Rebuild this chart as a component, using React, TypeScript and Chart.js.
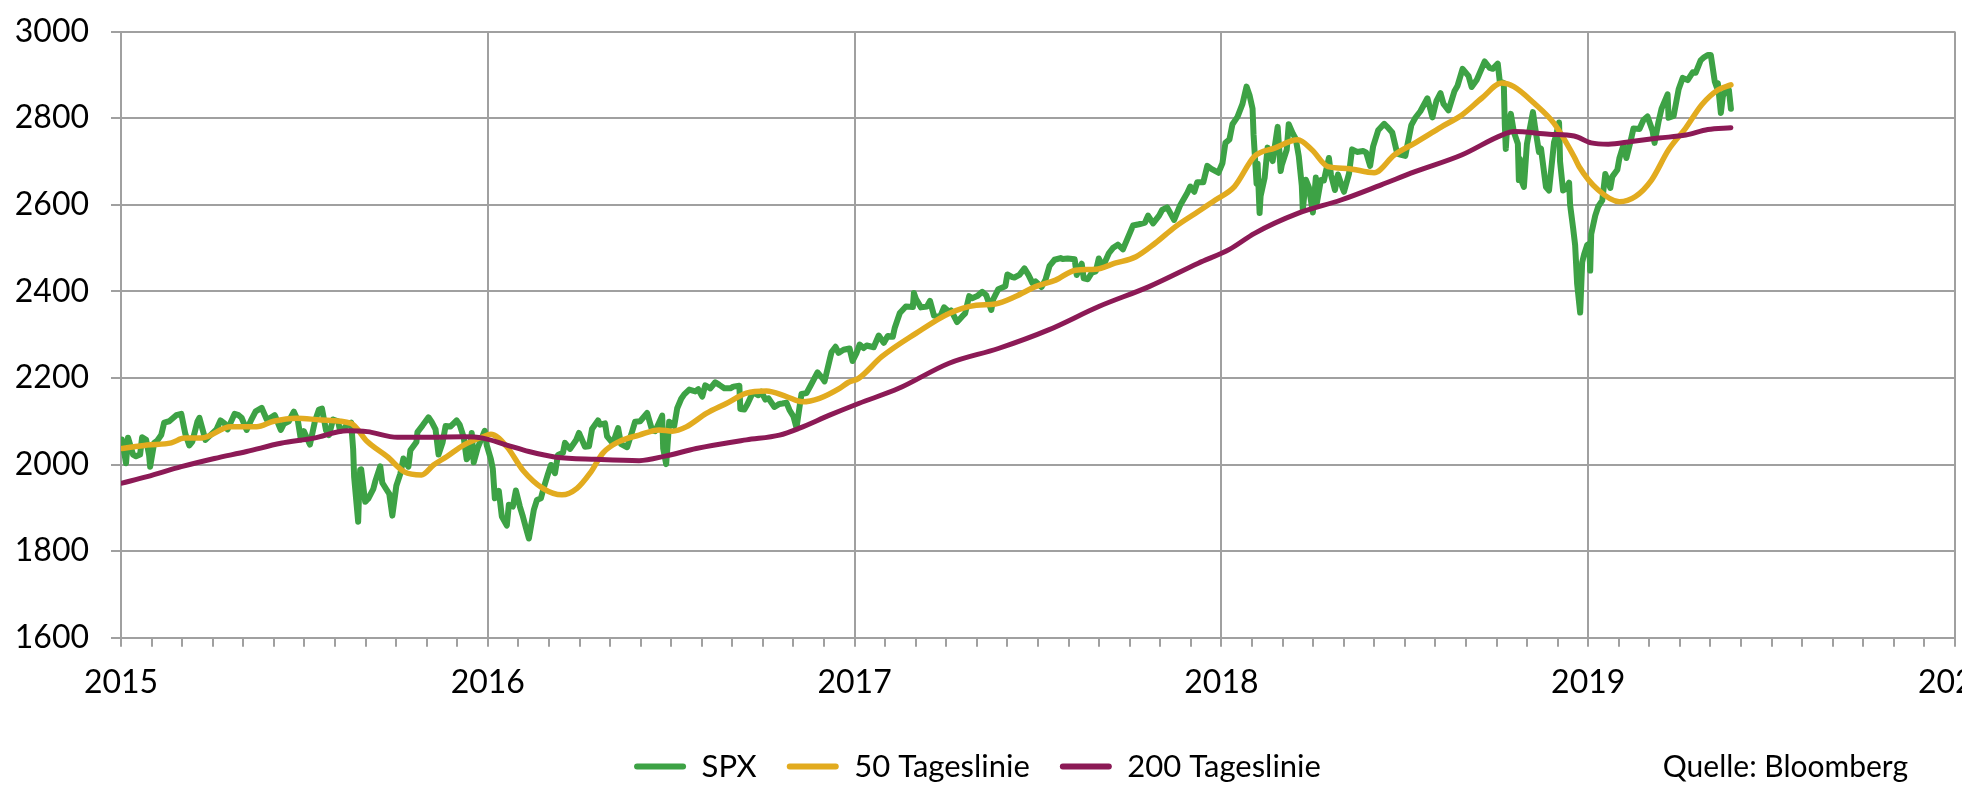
import React, { useEffect, useRef } from 'react';
import { Chart, registerables } from 'chart.js';

Chart.register(...registerables);

// ---------- Labels / styling constants ----------
const SERIES_NAMES = ['SPX', '50 Tageslinie', '200 Tageslinie'];
const SERIES_COLORS = ['#3da245', '#e2ab1f', '#8c1a56'];
const SOURCE_TEXT = 'Quelle: Bloomberg';
const Y_MIN = 1600;
const Y_MAX = 3000;
const Y_STEP = 200;
const X_START_YEAR = 2015;
const X_END_YEAR = 2020;
const FONT_FAMILY = 'Lato, "Noto Sans", sans-serif';
const GRID_COLOR = '#a0a0a0';

// ---------- SPX ----------
const spxDates = [
  '2015-01-02','2015-01-06','2015-01-08','2015-01-13','2015-01-16','2015-01-20','2015-01-22','2015-01-26','2015-01-29','2015-01-30',
  '2015-02-03','2015-02-06','2015-02-10','2015-02-13','2015-02-18','2015-02-25','2015-03-02','2015-03-06','2015-03-10','2015-03-13',
  '2015-03-18','2015-03-20','2015-03-26','2015-03-31','2015-04-06','2015-04-10','2015-04-14','2015-04-17','2015-04-24','2015-04-28',
  '2015-05-01','2015-05-06','2015-05-11','2015-05-15','2015-05-21','2015-05-26','2015-05-29','2015-06-03','2015-06-09','2015-06-12',
  '2015-06-17','2015-06-22','2015-06-26','2015-06-29','2015-07-02','2015-07-08','2015-07-13','2015-07-17','2015-07-20','2015-07-24',
  '2015-07-27','2015-07-31','2015-08-05','2015-08-07','2015-08-11','2015-08-14','2015-08-18','2015-08-20','2015-08-21','2015-08-24',
  '2015-08-25','2015-08-26','2015-08-27','2015-08-28','2015-09-01','2015-09-04','2015-09-09','2015-09-11','2015-09-16','2015-09-18',
  '2015-09-22','2015-09-25','2015-09-28','2015-10-02','2015-10-06','2015-10-09','2015-10-14','2015-10-16','2015-10-22','2015-10-23',
  '2015-10-28','2015-11-03','2015-11-06','2015-11-10','2015-11-13','2015-11-17','2015-11-20','2015-11-25','2015-12-01','2015-12-04',
  '2015-12-08','2015-12-11','2015-12-14','2015-12-16','2015-12-18','2015-12-22','2015-12-29','2015-12-31',
  '2016-01-04','2016-01-06','2016-01-08','2016-01-12','2016-01-15','2016-01-20','2016-01-22','2016-01-26','2016-01-29','2016-02-02',
  '2016-02-05','2016-02-08','2016-02-11','2016-02-16','2016-02-19','2016-02-23','2016-02-26','2016-03-01','2016-03-04','2016-03-08',
  '2016-03-11','2016-03-16','2016-03-18','2016-03-23','2016-03-29','2016-04-01','2016-04-07','2016-04-11','2016-04-14','2016-04-20',
  '2016-04-22','2016-04-27','2016-04-29','2016-05-04','2016-05-06','2016-05-10','2016-05-13','2016-05-19','2016-05-24','2016-05-27',
  '2016-06-01','2016-06-08','2016-06-13','2016-06-16','2016-06-23','2016-06-24','2016-06-27','2016-06-30','2016-07-05','2016-07-08',
  '2016-07-12','2016-07-15','2016-07-20','2016-07-26','2016-07-29','2016-08-02','2016-08-05','2016-08-10','2016-08-15','2016-08-19',
  '2016-08-24','2016-08-30','2016-09-02','2016-09-08','2016-09-09','2016-09-13','2016-09-16','2016-09-21','2016-09-23','2016-09-27',
  '2016-09-30','2016-10-04','2016-10-07','2016-10-13','2016-10-18','2016-10-21','2016-10-25','2016-10-28','2016-11-01','2016-11-04',
  '2016-11-07','2016-11-09','2016-11-14','2016-11-18','2016-11-25','2016-11-30','2016-12-02','2016-12-07','2016-12-09','2016-12-13',
  '2016-12-16','2016-12-21','2016-12-27','2016-12-30',
  '2017-01-03','2017-01-06','2017-01-10','2017-01-13','2017-01-18','2017-01-20','2017-01-25','2017-01-30','2017-02-03','2017-02-08',
  '2017-02-10','2017-02-15','2017-02-21','2017-02-28','2017-03-01','2017-03-03','2017-03-08','2017-03-14','2017-03-17','2017-03-21',
  '2017-03-27','2017-03-31','2017-04-05','2017-04-07','2017-04-13','2017-04-18','2017-04-21','2017-04-25','2017-04-28','2017-05-03',
  '2017-05-08','2017-05-12','2017-05-17','2017-05-19','2017-05-24','2017-05-31','2017-06-02','2017-06-07','2017-06-09','2017-06-14',
  '2017-06-19','2017-06-23','2017-06-27','2017-06-30','2017-07-06','2017-07-10','2017-07-14','2017-07-19','2017-07-25','2017-07-27',
  '2017-08-01','2017-08-08','2017-08-10','2017-08-15','2017-08-17','2017-08-21','2017-08-25','2017-08-29','2017-09-01','2017-09-05',
  '2017-09-11','2017-09-15','2017-09-20','2017-09-25','2017-09-29','2017-10-05','2017-10-11','2017-10-17','2017-10-20','2017-10-25',
  '2017-10-31','2017-11-03','2017-11-08','2017-11-15','2017-11-21','2017-11-28','2017-12-01','2017-12-05','2017-12-08','2017-12-14',
  '2017-12-18','2017-12-22','2017-12-29',
  '2018-01-02','2018-01-05','2018-01-09','2018-01-12','2018-01-17','2018-01-22','2018-01-26','2018-01-29','2018-02-01','2018-02-02',
  '2018-02-05','2018-02-06','2018-02-08','2018-02-09','2018-02-13','2018-02-16','2018-02-21','2018-02-26','2018-03-01','2018-03-02',
  '2018-03-07','2018-03-09','2018-03-13','2018-03-16','2018-03-19','2018-03-22','2018-03-23','2018-03-26','2018-03-29','2018-04-02',
  '2018-04-05','2018-04-06','2018-04-10','2018-04-13','2018-04-18','2018-04-20','2018-04-24','2018-04-27','2018-05-02','2018-05-03',
  '2018-05-08','2018-05-11','2018-05-16','2018-05-22','2018-05-25','2018-05-29','2018-06-01','2018-06-06','2018-06-12','2018-06-15',
  '2018-06-20','2018-06-25','2018-06-28','2018-07-03','2018-07-09','2018-07-13','2018-07-18','2018-07-25','2018-07-30','2018-08-03',
  '2018-08-07','2018-08-10','2018-08-15','2018-08-21','2018-08-24','2018-08-29','2018-09-04','2018-09-07','2018-09-12','2018-09-20',
  '2018-09-25','2018-09-28','2018-10-03','2018-10-05','2018-10-09','2018-10-10','2018-10-11','2018-10-12','2018-10-16','2018-10-19',
  '2018-10-23','2018-10-24','2018-10-25','2018-10-26','2018-10-29','2018-11-01','2018-11-07','2018-11-09','2018-11-13','2018-11-15',
  '2018-11-20','2018-11-23','2018-11-28','2018-11-30','2018-12-03','2018-12-04','2018-12-07','2018-12-10','2018-12-13','2018-12-14',
  '2018-12-17','2018-12-19','2018-12-21','2018-12-24','2018-12-26','2018-12-28','2018-12-31',
  '2019-01-02','2019-01-03','2019-01-04','2019-01-08','2019-01-11','2019-01-15','2019-01-18','2019-01-23','2019-01-25','2019-01-30',
  '2019-02-01','2019-02-05','2019-02-08','2019-02-12','2019-02-15','2019-02-21','2019-02-25','2019-03-01','2019-03-06','2019-03-08',
  '2019-03-12','2019-03-15','2019-03-21','2019-03-22','2019-03-27','2019-04-01','2019-04-05','2019-04-10','2019-04-15','2019-04-18',
  '2019-04-23','2019-04-26','2019-04-30','2019-05-03','2019-05-07','2019-05-09','2019-05-10','2019-05-13','2019-05-15','2019-05-17',
  '2019-05-21','2019-05-23',
];
const spxValues = [
  2058,2003,2062,2023,2019,2023,2063,2057,2021,1995,
  2050,2055,2068,2097,2100,2114,2117,2071,2044,2053,
  2099,2108,2057,2068,2081,2102,2095,2081,2117,2114,
  2108,2080,2105,2123,2131,2104,2107,2114,2080,2094,
  2100,2122,2101,2058,2077,2046,2100,2127,2129,2079,
  2068,2104,2100,2078,2084,2092,2097,2036,1971,1894,
  1868,1940,1988,1989,1914,1921,1943,1961,1996,1958,
  1943,1932,1882,1951,1979,2014,1995,2033,2052,2075,
  2090,2109,2099,2081,2023,2051,2089,2088,2102,2092,
  2063,2012,2022,2073,2005,2039,2078,2044,
  2013,1990,1922,1939,1880,1859,1907,1903,1940,1903,
  1880,1854,1829,1896,1918,1922,1948,1978,1999,1980,
  2022,2027,2050,2036,2056,2073,2041,2042,2082,2102,
  2092,2095,2065,2051,2057,2084,2047,2040,2076,2099,
  2100,2119,2079,2077,2113,2037,2001,2099,2089,2130,
  2152,2162,2173,2169,2174,2157,2183,2176,2190,2184,
  2176,2176,2180,2182,2128,2127,2139,2164,2165,2160,
  2168,2150,2153,2133,2140,2141,2143,2126,2111,2085,
  2132,2163,2165,2182,2213,2199,2192,2241,2260,2272,
  2258,2265,2268,2239,
  2258,2277,2269,2275,2272,2271,2298,2281,2297,2295,
  2316,2350,2365,2364,2396,2383,2363,2365,2378,2344,
  2341,2363,2353,2356,2329,2342,2349,2389,2384,2389,
  2399,2391,2357,2382,2405,2412,2439,2433,2432,2438,
  2453,2438,2419,2423,2410,2427,2459,2473,2477,2475,
  2476,2474,2438,2464,2430,2428,2443,2446,2476,2457,
  2488,2500,2508,2497,2519,2552,2555,2559,2575,2557,
  2575,2588,2594,2565,2599,2627,2642,2630,2652,2652,
  2690,2683,2674,
  2696,2743,2751,2786,2803,2833,2873,2853,2822,2762,
  2649,2695,2581,2620,2662,2732,2701,2780,2678,2691,
  2727,2786,2765,2752,2712,2644,2588,2658,2641,2582,
  2663,2604,2657,2656,2708,2670,2634,2670,2636,2630,
  2672,2728,2722,2724,2721,2690,2735,2772,2787,2780,
  2767,2718,2716,2713,2784,2801,2816,2846,2802,2840,
  2858,2833,2818,2863,2875,2914,2897,2872,2888,2931,
  2916,2914,2926,2885,2881,2786,2729,2768,2810,2768,
  2741,2657,2706,2659,2641,2740,2814,2781,2722,2730,
  2641,2633,2744,2760,2790,2700,2633,2637,2651,2600,
  2546,2507,2417,2351,2467,2486,2507,
  2510,2448,2532,2575,2596,2610,2671,2639,2665,2681,
  2707,2737,2708,2745,2776,2775,2796,2804,2771,2743,
  2792,2822,2855,2801,2805,2867,2893,2888,2906,2905,
  2934,2940,2946,2946,2884,2871,2881,2812,2851,2860,
  2865,2822,
];

// ---------- 50-day moving average ----------
const ma50Dates = [
  '2015-01-02','2015-01-27','2015-02-20','2015-03-05','2015-03-22','2015-04-20','2015-05-16','2015-06-02','2015-06-25','2015-07-19',
  '2015-08-18','2015-09-03','2015-09-23','2015-10-10','2015-10-27','2015-11-08','2015-11-21','2015-12-08','2015-12-27',
  '2016-01-04','2016-01-20','2016-02-05','2016-02-25','2016-03-15','2016-03-30','2016-04-12','2016-04-25','2016-05-11','2016-05-31',
  '2016-06-20','2016-07-03','2016-07-17','2016-08-06','2016-08-26','2016-09-15','2016-10-05','2016-10-25','2016-11-10','2016-11-27',
  '2016-12-17','2016-12-26','2017-01-05','2017-01-28','2017-03-03','2017-04-05','2017-05-02','2017-05-21','2017-06-10','2017-06-30',
  '2017-07-20','2017-08-09','2017-08-29','2017-09-17','2017-10-08','2017-10-27','2017-11-16','2017-12-06','2017-12-26',
  '2018-01-14','2018-02-03','2018-02-23','2018-03-18','2018-04-01','2018-04-17','2018-05-06','2018-06-02','2018-06-22','2018-07-12',
  '2018-08-08','2018-08-28','2018-09-17','2018-10-07','2018-10-19','2018-11-08','2018-11-28','2018-12-18','2018-12-23',
  '2019-01-11','2019-02-01','2019-02-17','2019-03-05','2019-03-22','2019-04-08','2019-04-24','2019-05-10','2019-05-23',
];
const ma50Values = [
  2037,2045,2050,2061,2061,2087,2087,2100,2107,2103,
  2095,2053,2018,1983,1976,1999,2018,2045,2064,
  2070,2041,1987,1945,1930,1945,1980,2027,2053,2068,
  2080,2077,2087,2118,2141,2165,2170,2157,2145,2153,
  2176,2190,2199,2249,2303,2349,2368,2371,2388,2411,
  2426,2449,2451,2465,2480,2511,2549,2580,2611,
  2642,2712,2731,2750,2727,2688,2684,2674,2715,2742,
  2780,2807,2846,2881,2873,2835,2788,2711,2688,
  2634,2607,2619,2657,2727,2777,2831,2865,2877,
];

// ---------- 200-day moving average ----------
const ma200Dates = [
  '2015-01-02','2015-01-27','2015-03-02','2015-04-04','2015-05-06','2015-06-09','2015-07-12','2015-08-14','2015-09-03','2015-10-03',
  '2015-11-05','2015-12-08','2015-12-27','2016-01-20','2016-02-11','2016-03-09','2016-04-18','2016-05-31','2016-06-27','2016-07-27',
  '2016-09-15','2016-10-18','2016-11-07','2016-12-07','2017-01-05','2017-02-14','2017-04-05','2017-05-24','2017-07-13','2017-09-01',
  '2017-10-21','2017-12-09','2018-01-09','2018-02-03','2018-03-18','2018-04-30','2018-06-09','2018-07-12','2018-08-28','2018-10-07',
  '2018-10-19','2018-11-23','2018-12-18','2019-01-04','2019-01-21','2019-02-13','2019-03-12','2019-04-08','2019-04-30','2019-05-23',
];
const ma200Values = [
  1957,1972,1995,2014,2030,2049,2061,2078,2076,2063,
  2063,2064,2061,2045,2030,2017,2012,2009,2020,2037,
  2057,2068,2084,2114,2141,2176,2234,2268,2311,2365,
  2411,2465,2497,2534,2580,2611,2646,2676,2715,2761,
  2769,2763,2759,2743,2740,2746,2754,2761,2774,2778,
];

// date -> fractional year (position on the linear time axis)
function toYearFraction(iso: string): number {
  const [y, m, d] = iso.split('-').map(Number);
  const start = Date.UTC(y, 0, 1);
  const end = Date.UTC(y + 1, 0, 1);
  return y + (Date.UTC(y, m - 1, d) - start) / (end - start);
}

function toPoints(dates: string[], values: number[]) {
  return dates.map((d, i) => ({ x: toYearFraction(d), y: values[i] }));
}

const isWholeYear = (v: number) => Math.abs(v - Math.round(v)) < 1e-6;

const sourcePlugin = {
  id: 'sourceText',
  afterDraw(chart: any) {
    const ctx = chart.ctx;
    ctx.save();
    ctx.font = `30px ${FONT_FAMILY}`;
    ctx.fillStyle = '#000';
    ctx.textAlign = 'right';
    ctx.textBaseline = 'middle';
    ctx.fillText(SOURCE_TEXT, 1908, 767);
    ctx.restore();
  },
};

export default function App() {
  const canvasRef = useRef<HTMLCanvasElement | null>(null);

  useEffect(() => {
    if (!canvasRef.current) return;
    const seriesData = [
      toPoints(spxDates, spxValues),
      toPoints(ma50Dates, ma50Values),
      toPoints(ma200Dates, ma200Values),
    ];
    const widths = [6, 5.5, 5];
    const orders = [3, 2, 1];
    const smooth = [false, true, true];
    const chart = new Chart(canvasRef.current, {
      type: 'line',
      data: {
        datasets: SERIES_NAMES.map((name, i) => ({
          label: name,
          data: seriesData[i],
          borderColor: SERIES_COLORS[i],
          backgroundColor: SERIES_COLORS[i],
          borderWidth: widths[i],
          pointRadius: 0,
          tension: smooth[i] ? 0.4 : 0,
          cubicInterpolationMode: smooth[i] ? ('monotone' as const) : ('default' as const),
          fill: false,
          order: orders[i],
          borderJoinStyle: 'round' as const,
          borderCapStyle: 'round' as const,
        })),
      },
      options: {
        responsive: false,
        animation: false,
        parsing: false as any,
        normalized: true,
        layout: { padding: { top: 31.6, left: 0, right: 7, bottom: 0 } },
        scales: {
          x: {
            type: 'linear',
            min: X_START_YEAR,
            max: X_END_YEAR,
            afterBuildTicks: (scale: any) => {
              const ticks: { value: number }[] = [];
              for (let y = X_START_YEAR; y < X_END_YEAR; y++) {
                for (let m = 0; m < 12; m++) ticks.push({ value: y + m / 12 });
              }
              ticks.push({ value: X_END_YEAR });
              scale.ticks = ticks;
            },
            afterFit: (scale: any) => {
              scale.height = 83.3;
              scale.paddingLeft = 0;
              scale.paddingRight = 0;
            },
            grid: {
              color: (ctx: any) => (ctx.tick && isWholeYear(ctx.tick.value) ? GRID_COLOR : 'rgba(0,0,0,0)'),
              tickColor: GRID_COLOR,
              lineWidth: 2,
              tickLength: 9,
            },
            border: { color: GRID_COLOR, width: 2 },
            ticks: {
              autoSkip: false,
              maxRotation: 0,
              minRotation: 0,
              padding: 17,
              color: '#000',
              font: { family: FONT_FAMILY, size: 32 },
              callback: (v: any) => (isWholeYear(Number(v)) ? String(Math.round(Number(v))) : ''),
            },
          },
          y: {
            min: Y_MIN,
            max: Y_MAX,
            afterFit: (scale: any) => {
              scale.width = 121;
              scale.paddingTop = 0;
              scale.paddingBottom = 0;
            },
            grid: { color: GRID_COLOR, lineWidth: 2, tickLength: 10 },
            border: { color: GRID_COLOR, width: 2 },
            ticks: {
              stepSize: Y_STEP,
              padding: 22,
              color: '#000',
              font: { family: FONT_FAMILY, size: 32 },
              callback: (v: any) => String(v),
            },
          },
        },
        plugins: {
          tooltip: { enabled: false },
          title: { display: false },
          legend: {
            position: 'bottom',
            labels: {
              font: { family: FONT_FAMILY, size: 31 },
              color: '#000',
              boxWidth: 52,
              boxHeight: 6,
              padding: 30,
              useBorderRadius: true,
              borderRadius: 3,
              generateLabels: (c: any) =>
                c.data.datasets.map((ds: any, i: number) => ({
                  text: ds.label,
                  fillStyle: ds.borderColor,
                  strokeStyle: ds.borderColor,
                  lineWidth: 0,
                  hidden: false,
                  datasetIndex: i,
                  borderRadius: 3,
                  fontColor: '#000',
                })),
            },
          },
        },
      },
      plugins: [sourcePlugin],
    });
    return () => chart.destroy();
  }, []);

  return (
    <div
      style={{
        position: 'fixed',
        left: 0,
        top: 0,
        width: 1980,
        height: 787,
        overflow: 'hidden',
        background: '#fff',
      }}
    >
      <canvas ref={canvasRef} width={1962} height={792} style={{ display: 'block' }} />
    </div>
  );
}
